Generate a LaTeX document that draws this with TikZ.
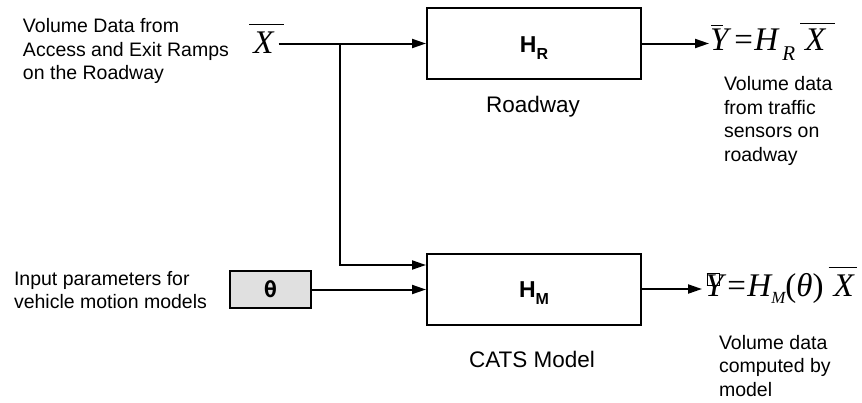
\documentclass[tikz,border=0pt]{standalone}
\usepackage{fontspec}
\setmainfont{Liberation Sans}
\newfontfamily\tms{Liberation Serif}
\newfontfamily\mono{DejaVu Sans Mono}
\usetikzlibrary{arrows.meta}
\definecolor{thfill}{RGB}{224,224,224}
\newcommand\ovl[3]{\makebox[0pt][l]{\hspace{#1}\raisebox{#2}{\rule{#3}{1.3pt}}}}
\newcommand\glyphbox{\makebox[0pt][l]{\hspace{1.5pt}\raisebox{11pt}{\setlength\fboxsep{0pt}\setlength\fboxrule{0.8pt}\fbox{\rule{0pt}{11.4pt}\hspace{11.4pt}}}}}
\begin{document}
\begin{tikzpicture}[x=1pt,y=-1pt,line width=2pt,
  blk/.style={draw,line width=2pt,minimum width=214pt,minimum height=71pt,inner sep=0pt},
  thbox/.style={draw,line width=2pt,fill=thfill,minimum width=81pt,minimum height=37pt,inner sep=0pt,font=\mono\bfseries\fontsize{22}{22}\selectfont},
  arr/.style={-{Triangle[length=14pt,width=9pt]}},
  lbl/.style={align=left,inner sep=0pt,anchor=west,font=\fontsize{19.5}{23.5}\selectfont},
  captext/.style={inner sep=0pt,anchor=base,font=\fontsize{22.5}{27}\selectfont},
  hlab/.style={inner sep=0pt,anchor=base,font=\bfseries\fontsize{23}{23}\selectfont},
  eq/.style={inner sep=0pt,anchor=base west,font=\tms\itshape\fontsize{33}{33}\selectfont}]
\useasboundingbox (0,0) rectangle (862,402);
% blocks
\node[blk] (hr) at (534,43.5) {};
\node[blk] (hm) at (534,289) {};
\node[hlab] (hrl) at (534,52) {H\raisebox{-7pt}{\fontsize{16}{16}\selectfont R}};
\node[hlab] (hml) at (534,297) {H\raisebox{-7pt}{\fontsize{16}{16}\selectfont M}};
\node[thbox] (th) at (270.5,289.5) {θ};
% captions
\node[captext] (rw) at (533,112) {Roadway};
\node[captext] (cm) at (532,367) {CATS Model};
% labels
\node[lbl] (lin) at (22,51.4) {Volume Data from\\Access and Exit Ramps\\on the Roadway};
\node[lbl] (lpar) at (13,290) {Input parameters for\\vehicle motion models};
\node[lbl] (lyr) at (723,121) {Volume data\\from traffic\\sensors on\\roadway};
\node[lbl] (lym) at (718,366) {Volume data\\computed by\\model};
% X input
\node[eq,anchor=base,inner xsep=4pt] (xin) at (263.5,53) {\ovl{-4pt}{28pt}{35pt}X};
% formulas
\node[eq] (yr) at (709,50) {\ovl{1pt}{24pt}{12pt}Y\hspace{6pt}{\upshape=}\hspace{1.5pt}H\hspace{4pt}\raisebox{-10pt}{\fontsize{21}{21}\selectfont R}\hspace{10pt}\ovl{-5pt}{26pt}{35pt}X};
\node[eq] (ym) at (704,296) {\glyphbox Y\hspace{4pt}{\upshape=}\hspace{1.5pt}H\raisebox{-7pt}{\fontsize{17}{17}\selectfont M}{\upshape(}θ{\upshape)}\hspace{10pt}\ovl{-5pt}{28pt}{28pt}X};
% connectors
\coordinate (br) at (340,43);
\draw[arr] (xin.east |- hr.west) -- (hr.west);
\draw[arr] (br) |- ([yshift=24pt]hm.west);
\draw[arr] (th.east) -- (th.east -| hm.west);
\draw[arr] (hr.east) -- (yr.west |- hr.east);
\draw[arr] (hm.east) -- ([xshift=-2pt]ym.west |- hm.east);
\end{tikzpicture}
\end{document}
